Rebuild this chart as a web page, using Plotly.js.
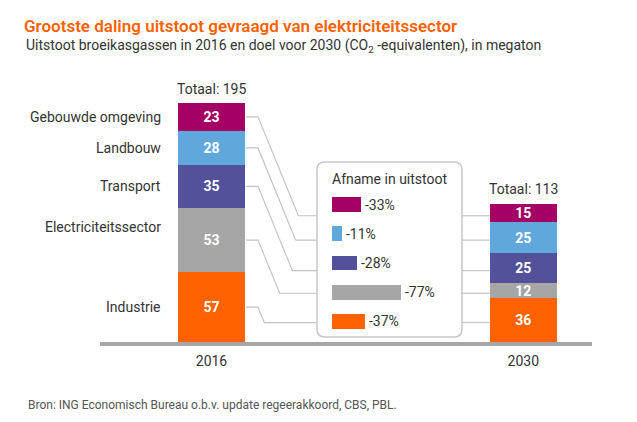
<!DOCTYPE html>
<html>
<head>
<meta charset="utf-8">
<script src="https://cdn.plot.ly/plotly-3.0.1.min.js"></script>
<style>html,body{margin:0;padding:0;background:#fff;}#chart{width:637px;height:422px;}</style>
</head>
<body>
<div id="chart"></div>
<script>
// ---------- data ----------
const sectors = ['Gebouwde omgeving', 'Landbouw', 'Transport', 'Electriciteitssector', 'Industrie'];
const years = ['2016', '2030'];
const values2016 = [23, 28, 35, 53, 57];
const values2030 = [15, 25, 25, 12, 36];
const reductionPct = [33, 11, 28, 77, 37];
const totals = [195, 113];
const sectorColors = ['#A50064', '#60A8DC', '#525199', '#A6A6A6', '#FF6200'];

// ---------- layout constants (pixels) ----------
const W = 637, H = 422;
const FONT = 'Roboto, "Noto Sans", sans-serif';
const TXT = '#333333';
const basePx = 342;                 // y pixel of value 0
const pxPerUnit = 238 / 195;        // vertical scale
const x2016px = 211.5, xStepPx = 311.8, barWpx = 67;
const axLeftPx = 100, axRightPx = 592;
const px = p => p / W;
const py = p => 1 - p / H;
const yPx = v => basePx - v * pxPerUnit;

// cumulative centers (stack from bottom = last sector)
function centers(vals) {
  const c = new Array(vals.length);
  let acc = 0;
  for (let i = vals.length - 1; i >= 0; i--) { c[i] = acc + vals[i] / 2; acc += vals[i]; }
  return c;
}
const c2016 = centers(values2016);
const c2030 = centers(values2030);

// ---------- traces ----------
const traces = [];
for (let i = sectors.length - 1; i >= 0; i--) {
  traces.push({
    type: 'bar', name: sectors[i], x: [0, 1], y: [values2016[i], values2030[i]],
    width: barWpx / xStepPx,
    marker: {color: sectorColors[i], line: {width: 0}},
    text: [String(values2016[i]), String(values2030[i])],
    textposition: 'inside', insidetextanchor: 'middle', textangle: 0, constraintext: 'none',
    textfont: {family: FONT, size: 14, color: '#ffffff', weight: 700},
    hoverinfo: 'skip', showlegend: false, xaxis: 'x', yaxis: 'y'
  });
}
traces.push({
  type: 'bar', orientation: 'h', x: reductionPct, y: sectors,
  width: 0.51,
  marker: {color: sectorColors, line: {width: 0}},
  hoverinfo: 'skip', showlegend: false, xaxis: 'x2', yaxis: 'y2'
});

// ---------- shapes ----------
const shapes = [];
const lineStyle = {color: '#c4c4c4', width: 1.2};
const boxL = 317, boxR = 462, boxT = 162, boxB = 337, rad = 8;
const kinkPx = 258, slope = 2.45;
for (let i = 0; i < sectors.length; i++) {
  const ys = yPx(c2016[i]);
  const yt = yPx(c2030[i]) + 2.5;
  const xd = kinkPx + (yt - ys) / slope;
  shapes.push({type: 'path', xref: 'paper', yref: 'paper', layer: 'below', line: lineStyle,
    path: `M${px(x2016px + barWpx / 2 + 1)},${py(ys)} L${px(kinkPx)},${py(ys)} L${px(xd)},${py(yt)} L${px(boxL)},${py(yt)}`});
  shapes.push({type: 'path', xref: 'paper', yref: 'paper', layer: 'below', line: lineStyle,
    path: `M${px(boxR)},${py(yt)} L${px(x2016px + xStepPx - barWpx / 2)},${py(yt)}`});
}
const boxPath = [
  `M${px(boxL + rad)},${py(boxT)}`, `L${px(boxR - rad)},${py(boxT)}`,
  `Q${px(boxR)},${py(boxT)} ${px(boxR)},${py(boxT + rad)}`,
  `L${px(boxR)},${py(boxB - rad)}`,
  `Q${px(boxR)},${py(boxB)} ${px(boxR - rad)},${py(boxB)}`,
  `L${px(boxL + rad)},${py(boxB)}`,
  `Q${px(boxL)},${py(boxB)} ${px(boxL)},${py(boxB - rad)}`,
  `L${px(boxL)},${py(boxT + rad)}`,
  `Q${px(boxL)},${py(boxT)} ${px(boxL + rad)},${py(boxT)}`, 'Z'].join(' ');
shapes.push({type: 'path', xref: 'paper', yref: 'paper', layer: 'below', path: boxPath,
  fillcolor: '#ffffff', line: {color: '#c8c8c8', width: 1.5}});

// ---------- annotations ----------
const annotations = [];
years.forEach((yr, j) => annotations.push({
  xref: 'x', yref: 'y', x: j, y: totals[j], yanchor: 'bottom', yshift: 5,
  text: 'Totaal: ' + totals[j], showarrow: false, font: {family: FONT, size: 14, color: TXT}
}));
sectors.forEach((s, i) => annotations.push({
  xref: 'paper', yref: 'y', x: px(163), xanchor: 'right', y: c2016[i], yanchor: 'middle',
  yshift: s === 'Electriciteitssector' ? 13 : 0,
  text: s, showarrow: false, font: {family: FONT, size: 14, color: TXT}
}));
sectors.forEach((s, i) => annotations.push({
  xref: 'x2', yref: 'y2', x: reductionPct[i], xanchor: 'left', xshift: 2, y: s, yanchor: 'middle',
  text: '-' + reductionPct[i] + '%', showarrow: false, font: {family: FONT, size: 14, color: TXT}
}));
annotations.push({xref: 'paper', yref: 'paper', x: px(330), xanchor: 'left', y: py(179), yanchor: 'middle',
  text: 'Afname in uitstoot', showarrow: false, font: {family: FONT, size: 14, color: TXT}});
annotations.push({xref: 'paper', yref: 'paper', x: px(24), xanchor: 'left', y: py(46), yanchor: 'middle',
  text: 'Uitstoot broeikasgassen in 2016 en doel voor 2030 (CO<sub>2</sub> -equivalenten), in megaton',
  showarrow: false, font: {family: FONT, size: 14, color: TXT}});
annotations.push({xref: 'paper', yref: 'paper', x: px(26), xanchor: 'left', y: py(405), yanchor: 'middle',
  text: 'Bron: ING Economisch Bureau o.b.v. update regeerakkoord, CBS, PBL.',
  showarrow: false, font: {family: FONT, size: 12, color: '#555555'}});

// ---------- layout ----------
const layout = {
  width: W, height: H, margin: {l: 0, r: 0, t: 0, b: 0},
  paper_bgcolor: '#ffffff', plot_bgcolor: 'rgba(0,0,0,0)',
  barmode: 'stack', showlegend: false, font: {family: FONT, color: TXT},
  title: {text: 'Grootste daling uitstoot gevraagd van elektriciteitssector',
    x: px(24), xanchor: 'left', xref: 'paper', y: py(26), yanchor: 'middle', yref: 'paper',
    font: {family: FONT, size: 17, color: '#FF6200', weight: 600}},
  xaxis: {domain: [px(axLeftPx), px(axRightPx)],
    range: [(axLeftPx - x2016px) / xStepPx, (axRightPx - x2016px) / xStepPx],
    tickvals: [0, 1], ticktext: years, ticks: '', showgrid: false, zeroline: false,
    showline: true, linecolor: '#a6a6a6', linewidth: 4, ticklabelstandoff: 3,
    tickfont: {family: FONT, size: 14, color: TXT}, fixedrange: true},
  yaxis: {domain: [py(basePx), 1], range: [0, basePx / pxPerUnit], visible: false, fixedrange: true},
  xaxis2: {domain: [px(332), px(470)], range: [0, 138 / 0.89], anchor: 'y2', visible: false, fixedrange: true},
  yaxis2: {domain: [py(336), py(190)], anchor: 'x2', type: 'category', categoryarray: sectors,
    range: [4.5, -0.5], visible: false, fixedrange: true},
  shapes: shapes, annotations: annotations
};

Plotly.newPlot('chart', traces, layout, {displayModeBar: false, staticPlot: true});
</script>
</body>
</html>
